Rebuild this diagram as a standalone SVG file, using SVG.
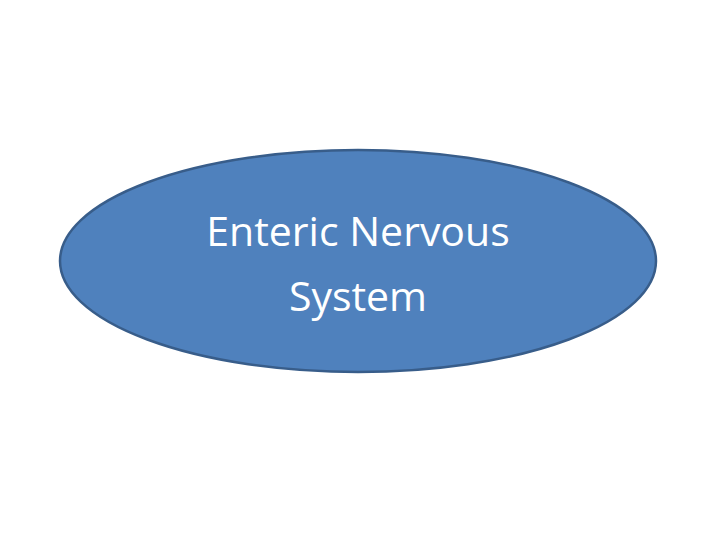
<svg xmlns="http://www.w3.org/2000/svg" width="720" height="540" viewBox="0 0 720 540">
<rect width="720" height="540" fill="#fff"/>
<g id="node-ens">
<ellipse cx="358" cy="261" rx="298" ry="111" fill="#4f81bd" stroke="#385d8a" stroke-width="2.5"/>
<text x="358" y="246" text-anchor="middle" font-family="Open Sans, Liberation Sans, sans-serif" font-size="41" fill="#fff">Enteric Nervous</text>
<text x="358" y="311" text-anchor="middle" font-family="Open Sans, Liberation Sans, sans-serif" font-size="41" fill="#fff">System</text>
</g>
<g id="connectors"/>
</svg>
